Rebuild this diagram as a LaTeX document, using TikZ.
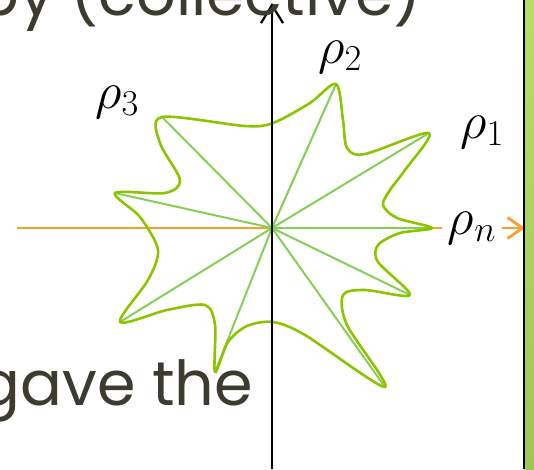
\RequirePackage{fix-cm}
\documentclass[tikz,border=0pt]{standalone}
\usepackage[no-math]{fontspec}
\setmainfont{Poppins}
\usetikzlibrary{arrows.meta}
\definecolor{slidetext}{RGB}{61,59,47}
\definecolor{starline}{RGB}{140,196,0}
\definecolor{spokeline}{RGB}{134,206,86}
\definecolor{axisorange}{RGB}{247,160,45}
\definecolor{bartop}{RGB}{181,222,104}
\definecolor{barbottom}{RGB}{158,198,88}
\begin{document}
\begin{tikzpicture}[x=1pt, y=-1pt,
  slidetxt/.style={font=\fontsize{62}{70}\selectfont, text=slidetext, inner sep=0pt},
  rholbl/.style={font=\fontsize{52}{58}\selectfont, inner sep=0pt},
  axisline/.style={line width=2.2pt, -{Straight Barb[length=18pt,width=22pt]}},
  horline/.style={line width=2.8pt, axisorange, -{Straight Barb[length=15pt,width=21pt]}},
  spoke/.style={line width=2pt, spokeline},
  starcurve/.style={line width=2.6pt, starline, line join=round}
]
  \useasboundingbox (0,0) rectangle (534,469);
  \clip (0,0) rectangle (534,469);

  % centre and tips of the star
  \coordinate (o) at (272,228);
  \coordinate (tn) at (432,228);
  \coordinate (t1) at (429,133);
  \coordinate (t2) at (336,84);
  \coordinate (t3) at (162,117);
  \coordinate (t4) at (115,193);
  \coordinate (t5) at (120,322);
  \coordinate (t6) at (215,372);
  \coordinate (t7) at (385,387);
  \coordinate (t8) at (410,295);

  % axes
  \coordinate (hl) at (17,228);
  \coordinate (hr) at (525,228);
  \coordinate (vb) at (272,469);
  \coordinate (vt) at (272,3);
  \draw[horline] (hl) -- (hr);

  \foreach \t in {tn,t1,t2,t3,t4,t5,t6,t7,t8}
    \draw[spoke] (o) -- (\t);

  \draw[starcurve] plot[smooth cycle, tension=0.5] coordinates {
    (tn) (397,218) (383,205) (390,190) (405,170)
    (t1) (365,154) (347,148) (343,120)
    (t2) (310,103) (273,123) (245,126)
    (t3) (160,143) (180,180) (165,193)
    (t4) (140,217) (158,250) (148,280)
    (t5) (167,310) (205,305) (215,325)
    (t6) (228,342) (247,326) (273,322) (305,335)
    (t7) (347,325) (343,295) (365,290)
    (t8) (378,262) (378,245) (400,233)};

  \draw[axisline] (vb) -- (vt);

  % labels
  \node[rholbl] (r1) at (482,132) {$\rho_1$};
  \node[rholbl] (r2) at (340,57) {$\rho_2$};
  \node[rholbl] (r3) at (117,102) {$\rho_3$};
  \node[rholbl, fill=white, inner xsep=6pt, inner ysep=1pt] (rn) at (472,228) {$\rho_n$};

  % slide text round the picture
  \node[slidetxt, anchor=base east] (topline) at (422,15) {by (collective)};
  \node[slidetxt, anchor=base east] (botline) at (253,405) {gave the};

  % side bar
  \fill[top color=bartop, bottom color=barbottom] (524,0) rectangle (534,469);
  \draw[line width=2.2pt] (524,0) -- (524,469);
\end{tikzpicture}
\end{document}
